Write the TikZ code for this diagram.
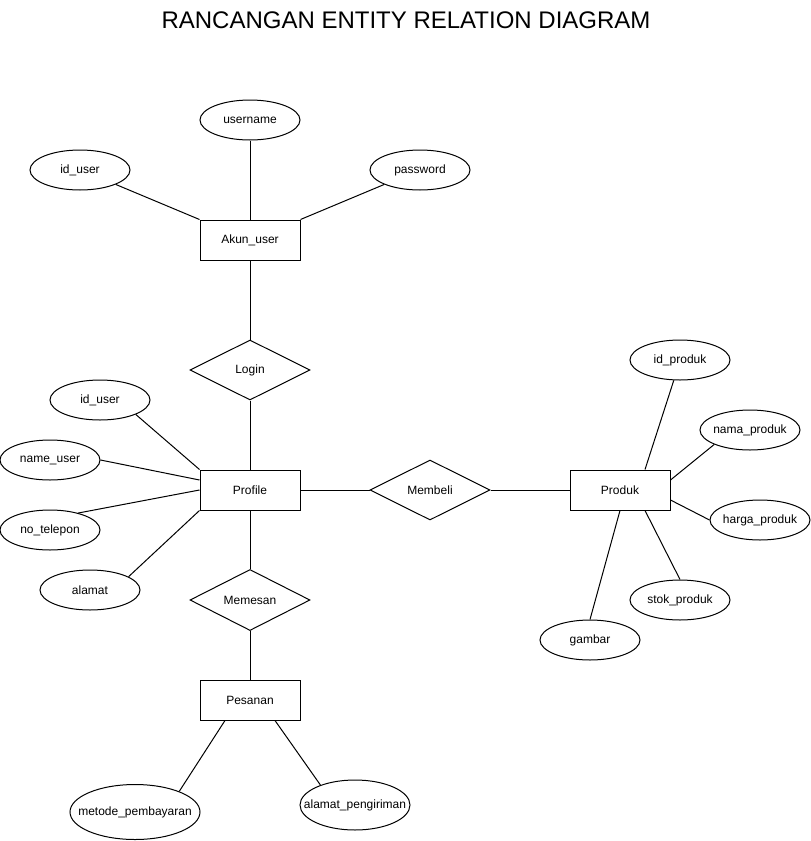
\documentclass[tikz,border=0pt]{standalone}
\usepackage{fontspec}
\setmainfont{Liberation Sans}
\usetikzlibrary{shapes.geometric,positioning}

\begin{document}
\begin{tikzpicture}[x=1pt, y=-1pt,
    font=\fontsize{12}{14}\selectfont,
    entity/.style={rectangle, draw, line width=1pt, minimum width=100pt, minimum height=40pt},
    attr/.style={ellipse, draw, line width=1pt, minimum width=100pt, minimum height=40pt,
                 inner sep=0pt, inner xsep=-16pt},
    rel/.style={diamond, draw, line width=1pt, minimum width=120pt, minimum height=60pt, inner sep=0pt},
    conn/.style={line width=1pt},
]
    \useasboundingbox (0,0) rectangle (811,841);
    \node[font=\fontsize{24}{28}\selectfont] (title) at (406,20) {RANCANGAN ENTITY RELATION DIAGRAM};

    % Akun_user and its attributes
    \node[entity] (akun)   at (250,240) {Akun\_user};
    \node[attr]   (akunid) at (80,170)  {id\_user};
    \node[attr]   (uname)  at (250,120) {username};
    \node[attr]   (pass)   at (420,170) {password};
    \draw[conn] (akunid.-22) -- (akun.north west);
    \draw[conn] (uname) -- (akun);
    \draw[conn] (pass.202) -- (akun.north east);

    % Login and Profile
    \node[rel]    (login)  at (250,370) {Login};
    \node[entity] (prof)   at (250,490) {Profile};
    \draw[conn] (akun) -- (login);
    \draw[conn] (login) -- (prof);
    \node[attr]   (profid) at (100,400) {id\_user};
    \node[attr]   (nuser)  at (50,460)  {name\_user};
    \node[attr]   (telp)   at (50,530)  {no\_telepon};
    \node[attr]   (alamat) at (90,590)  {alamat};
    \draw[conn] (profid.-22) -- (prof.north west);
    \draw[conn] (nuser.east) -- ([yshift=10pt]prof.west);
    \draw[conn] (telp.31) -- (prof.west);
    \draw[conn] (alamat.19) -- (prof.south west);

    % Membeli and Produk
    \node[rel]    (beli)   at (430,490) {Membeli};
    \node[entity] (produk) at (620,490) {Produk};
    \draw[conn] (prof) -- (beli);
    \draw[conn] (beli) -- (produk);
    \node[attr]   (prodid) at (680,360) {id\_produk};
    \node[attr]   (nama)   at (750,430) {nama\_produk};
    \node[attr]   (harga)  at (760,520) {harga\_produk};
    \node[attr]   (stok)   at (680,600) {stok\_produk};
    \node[attr]   (gambar) at (590,640) {gambar};
    \draw[conn] (prodid.253) -- ([xshift=25pt]produk.north);
    \draw[conn] (nama.202) -- ([yshift=10pt]produk.east);
    \draw[conn] (harga.west) -- ([yshift=-10pt]produk.east);
    \draw[conn] (stok.north) -- ([xshift=25pt]produk.south);
    \draw[conn] (gambar.north) -- (produk.south);

    % Memesan and Pesanan
    \node[rel]    (pesan)   at (250,600) {Memesan};
    \node[entity] (pesanan) at (250,700) {Pesanan};
    \draw[conn] (prof) -- (pesan);
    \draw[conn] (pesan) -- (pesanan);
    \node[attr, minimum width=130pt, minimum height=55pt] (metode) at (135,812) {metode\_pembayaran};
    \node[attr, minimum width=110pt, minimum height=50pt] (kirim)  at (355,805) {alamat\_pengiriman};
    \draw[conn] (metode.25) -- ([xshift=-25pt]pesanan.south);
    \draw[conn] (kirim.150) -- ([xshift=25pt]pesanan.south);
\end{tikzpicture}
\end{document}
